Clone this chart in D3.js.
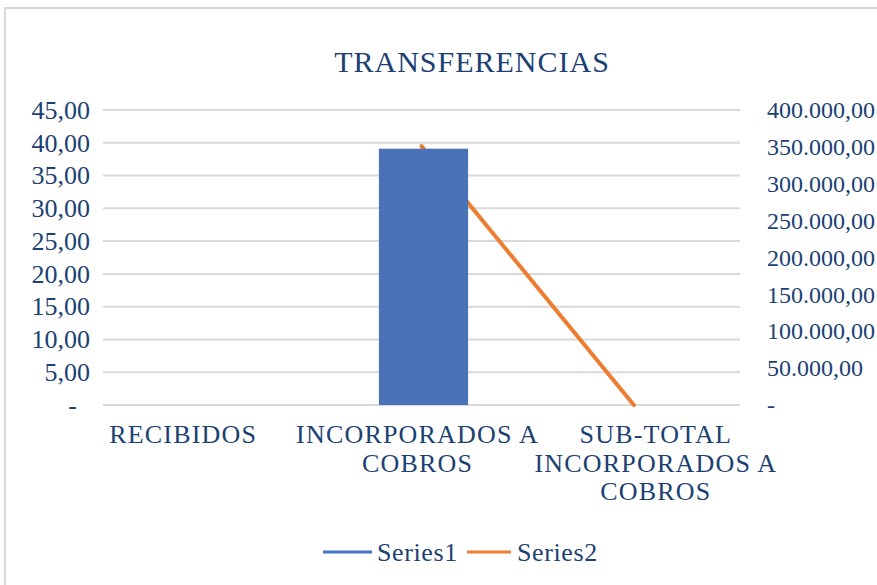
<!DOCTYPE html>
<html>
<head>
<meta charset="utf-8">
<script src="https://cdn.jsdelivr.net/npm/d3@7/dist/d3.min.js"></script>
<style>
  body { margin: 0; background: #fff; }
  svg text { font-family: "Liberation Serif", "DejaVu Serif", serif; fill: #1B4173; }
</style>
</head>
<body>
<div id="chart"></div>
<script>
var categories = ['RECIBIDOS', 'INCORPORADOS A COBROS', 'SUB-TOTAL INCORPORADOS A COBROS'];
var categoryLines = [['RECIBIDOS'], ['INCORPORADOS A', 'COBROS'], ['SUB-TOTAL', 'INCORPORADOS A', 'COBROS']];
var series1 = [null, 39.1, null];
var series2 = [null, 351000, 0];
var leftTicks = [0, 5, 10, 15, 20, 25, 30, 35, 40, 45];
var rightTicks = [0, 50000, 100000, 150000, 200000, 250000, 300000, 350000, 400000];
var seriesNames = ['Series1', 'Series2'];

var W = 877, H = 585;
var margin = {top: 110, right: 137, bottom: 180, left: 103};
var width = W - margin.left - margin.right,
    height = H - margin.top - margin.bottom;

// excel spreads the wrapped category labels a little
var labelShift = [-26, -4, 22];

var loc = d3.formatLocale({decimal: ',', thousands: '.', grouping: [3], currency: ['', '']});
var fmt = loc.format(',.2f');

var svg = d3.select('#chart').append('svg')
    .attr('width', W)
    .attr('height', H);

// chart border (runs off the right and bottom edges)
svg.append('rect')
    .attr('x', 5).attr('y', 8)
    .attr('width', W + 20).attr('height', H + 20)
    .attr('fill', 'none')
    .attr('stroke', '#d9d9d9')
    .attr('stroke-width', 2);

svg.append('text')
    .attr('x', 472).attr('y', 72)
    .attr('text-anchor', 'middle')
    .style('font-size', '30px')
    .style('letter-spacing', '1px')
    .text('TRANSFERENCIAS');

var g = svg.append('g')
    .attr('transform', 'translate(' + margin.left + ',' + margin.top + ')');

var x = d3.scaleBand().domain(categories).range([0, width]).paddingInner(0).paddingOuter(0);
var y = d3.scaleLinear().domain([0, 45]).range([height, 0]);
var y2 = d3.scaleLinear().domain([0, 400000]).range([height, 0]);

// gridlines
g.append('g')
  .selectAll('line')
  .data(leftTicks)
  .enter().append('line')
    .attr('x1', 0).attr('x2', width)
    .attr('y1', function(d) { return y(d); })
    .attr('y2', function(d) { return y(d); })
    .attr('stroke', '#d9d9d9')
    .attr('stroke-width', 2);

g.append('clipPath').attr('id', 'plotclip')
  .append('rect').attr('x', 0).attr('y', -5).attr('width', width).attr('height', height + 8);

// line (behind bars)
var pts = categories.map(function(c, i) { return {c: c, v: series2[i]}; });
var line = d3.line()
    .defined(function(d) { return d.v !== null; })
    .x(function(d) { return x(d.c) + x.bandwidth() / 2; })
    .y(function(d) { return y2(d.v); });

g.append('path')
    .datum(pts)
    .attr('clip-path', 'url(#plotclip)')
    .attr('fill', 'none')
    .attr('stroke', '#ED7D31')
    .attr('stroke-width', 4)
    .attr('stroke-linecap', 'round')
    .attr('d', line);

// bars
var barW = x.bandwidth() * 0.42;
g.append('g')
  .selectAll('rect')
  .data(categories.map(function(c, i) { return {c: c, v: series1[i]}; }).filter(function(d) { return d.v !== null; }))
  .enter().append('rect')
    .attr('x', function(d) { return x(d.c) + (x.bandwidth() - barW) / 2 + 2; })
    .attr('width', barW)
    .attr('y', function(d) { return y(d.v); })
    .attr('height', function(d) { return height - y(d.v); })
    .attr('fill', '#4A72B7');

// left axis
var yAxis = g.append('g')
    .call(d3.axisLeft(y).tickValues(leftTicks).tickSize(0).tickPadding(13)
      .tickFormat(function(d) { return d === 0 ? '-\u00a0\u00a0' : fmt(d); }));
yAxis.select('.domain').remove();
yAxis.selectAll('text').style('font-size', '26px');

// right axis
var yAxis2 = g.append('g')
    .attr('transform', 'translate(' + width + ',0)')
    .call(d3.axisRight(y2).tickValues(rightTicks).tickSize(0).tickPadding(27)
      .tickFormat(function(d) { return d === 0 ? '-' : fmt(d); }));
yAxis2.select('.domain').remove();
yAxis2.selectAll('text').style('font-size', '24px');

// category axis
var xAxis = g.append('g')
    .attr('transform', 'translate(0,' + height + ')')
    .call(d3.axisBottom(x).tickSize(0).tickFormat(''));
xAxis.select('.domain').remove();
xAxis.selectAll('.tick').each(function(d, i) {
  var t = d3.select(this).append('text')
      .attr('text-anchor', 'middle')
      .attr('y', 38)
      .style('font-size', '26px')
      .style('letter-spacing', '1.2px');
  categoryLines[i].forEach(function(s, j) {
    t.append('tspan').attr('x', labelShift[i]).attr('dy', j === 0 ? 0 : 28.5).text(s);
  });
});

// legend
var legendColors = ['#4472C4', '#ED7D31'];
var legend = svg.append('g').attr('transform', 'translate(323,552)');
var lx = [0, 144];
seriesNames.forEach(function(name, i) {
  var it = legend.append('g').attr('transform', 'translate(' + lx[i] + ',0)');
  it.append('line').attr('x1', 0).attr('x2', i === 0 ? 49 : 44).attr('y1', 0).attr('y2', 0)
    .attr('stroke', legendColors[i]).attr('stroke-width', 3);
  it.append('text').attr('x', i === 0 ? 54 : 50).attr('y', 0).attr('dy', '0.33em')
    .style('font-size', '26px').style('letter-spacing', '0.6px').text(name);
});
</script>
</body>
</html>
